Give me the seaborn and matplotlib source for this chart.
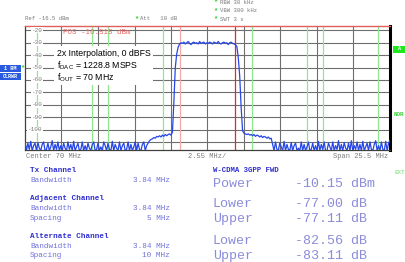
import numpy as np
import matplotlib
matplotlib.use("Agg")
import matplotlib.pyplot as plt
from matplotlib.patches import Rectangle
import seaborn as sns

# ---------------- data ----------------
center_mhz = 70.0
span_mhz = 25.5
n_points = 256                       # sweep points, 0.1 MHz apart
ref_level = -16.5
db_per_div = 10
y_labels = [-20, -30, -40, -50, -60, -70, -80, -90, -100]

# channel limits (MHz)
tx_limits = [68.08, 71.92]
adj_limits = [63.08, 66.92, 73.08, 76.92]
alt_limits = [58.08, 61.92, 78.08, 81.92]

# trace levels (dBm), segment by segment
noise_left = [-110, -117, -111, -116, -109.5, -117, -113, -111, -117, -110.5, -115, -117, -112, -110, -117, -116, -111, -117, -114, -109,
              -117, -112, -116, -110, -117, -113, -117, -111, -115, -117, -110, -116, -112, -117, -109.5, -117, -114, -111, -117, -116,
              -110, -117, -113, -117, -111, -115, -117, -112, -110, -117, -116, -111, -117, -114, -117, -110, -113, -117, -111, -116,
              -117, -109.5, -117, -112, -115, -117, -110, -117, -113, -111, -117, -116, -110, -117, -112, -117, -114, -110, -117, -111,
              -116, -117, -112, -110, -117, -113, -111, -109]
skirt_left = [-108, -107.5, -106.5, -107, -105.5, -106, -105, -106, -104.5, -105.5, -104, -105, -104, -103.5, -104.5]
rise = [-102, -78, -50, -39, -33.5]
plateau = [-31, -30, -30.5, -29.5, -31, -30, -29, -30.5, -31.5, -30, -29.5, -30.5, -30, -31, -29, -30.5, -30, -29.5, -31, -30,
           -30.5, -29.5, -30, -31, -29.5, -30, -30.5, -29, -30.5, -31, -30, -29.5, -30.5, -30, -31.5, -30, -29.5, -30.5, -31, -31.5]
fall = [-33, -42, -57, -82, -101]
skirt_right = [-103, -103.5, -104, -103.5, -104.5, -104, -105, -104, -105.5, -104.5, -105, -106, -105, -106.5, -105.5, -106, -107, -106, -107.5, -107]
noise_right = [-112, -117, -110, -116, -117, -111, -114, -117, -109.5, -117, -112, -116, -117, -110.5, -117, -113, -111, -117, -115, -117,
               -110, -117, -112, -117, -114, -110, -117, -116, -111, -117, -113, -117, -109.5, -117, -112, -116, -110, -117, -117, -111,
               -114, -117, -110, -117, -113, -116, -109, -117, -112, -117, -110.5, -115, -117, -111, -117, -109, -117, -113, -116, -110,
               -117, -112, -117, -109.5, -117, -114, -111, -117, -110, -116, -117, -112, -109, -117, -113, -117, -110, -116, -117, -109.5,
               -117, -111, -108.5]

level = np.array(noise_left + skirt_left + rise + plateau + fall + skirt_right + noise_right, dtype=float)
f_start = center_mhz - span_mhz / 2
f_stop = center_mhz + span_mhz / 2
freq = np.linspace(f_start, f_stop, n_points)

# ---------------- figure ----------------
W, H = 406, 262
sns.set_style("white")
plt.rcParams["mathtext.fontset"] = "custom"
plt.rcParams["mathtext.rm"] = "Liberation Sans"
plt.rcParams["mathtext.it"] = "Liberation Sans:italic"

fig = plt.figure(figsize=(W / 100, H / 100), dpi=100)
fig.patch.set_facecolor("white")

def fx(x):
    return x / W

def fy(y):
    return 1 - y / H

L, R, T, B = 25, 390, 26, 150
ax = fig.add_axes([fx(L), fy(B), (R - L) / W, (B - T) / H])
ax.set_facecolor("white")

ax.set_xlim(f_start, f_stop)
ax.set_ylim(ref_level - 10 * db_per_div, ref_level)
div = span_mhz / 10
ax.set_xticks([f_start + div * k for k in range(1, 10)])
ax.set_yticks(list(range(-20, -111, -10)))
ax.tick_params(length=0, labelbottom=False, labelleft=False)
ax.grid(True, color="#6e6e6e", linewidth=0.8)
ax.set_axisbelow(True)

for xv in alt_limits + adj_limits:
    ax.axvline(xv, color="#8fe88f", linewidth=0.9, zorder=1.5)
ax.axvline(tx_limits[0], color="#f4a8a8", linewidth=0.9, zorder=1.5)
ax.axvline(tx_limits[1], color="#e02828", linewidth=0.9, zorder=1.5)

sns.lineplot(x=freq, y=level, ax=ax, color="#2646e8", linewidth=0.9,
             estimator=None, sort=False, zorder=3)
ax.set_xlabel("")
ax.set_ylabel("")

for s in ["left", "bottom"]:
    ax.spines[s].set_color("#404040")
    ax.spines[s].set_linewidth(0.9)
ax.spines["right"].set_color("black")
ax.spines["right"].set_linewidth(2.2)
ax.spines["top"].set_color("#e06060")
ax.spines["top"].set_linewidth(1.0)

mono = "Liberation Mono"
gray = "#7a7a7a"

# y labels inside the grid
for v in y_labels:
    ypx = T + (ref_level - v) / (10 * db_per_div) * (B - T)
    fig.text(fx(42), fy(ypx), f"{v}", ha="right", va="center", family=mono,
             fontsize=4.3, color=gray, zorder=6,
             bbox=dict(facecolor="white", edgecolor="none", pad=0.4))

# header
fig.text(fx(25), fy(19), "Ref -16.5 dBm", ha="left", va="center", family=mono, fontsize=4.1, color=gray)
fig.text(fx(136), fy(18.5), "*", ha="center", va="center", family=mono, fontsize=5, color="#30d030", weight="bold")
fig.text(fx(140), fy(19), "Att   10 dB", ha="left", va="center", family=mono, fontsize=4.1, color=gray)
for ypos, s in [(2.6, "RBW 30 kHz"), (11, "VBW 300 kHz"), (19.7, "SWT 3 s")]:
    fig.text(fx(215.5), fy(ypos - 0.5), "*", ha="center", va="center", family=mono, fontsize=5, color="#30d030", weight="bold")
    fig.text(fx(220), fy(ypos), s, ha="left", va="center", family=mono, fontsize=4.1, color=gray)

fig.text(fx(63), fy(32), "POS -16.515 dBm", ha="left", va="center", family=mono, fontsize=5.4,
         color="#e86a6a", zorder=6)

# annotation box
fig.add_artist(Rectangle((fx(54), fy(85)), (153 - 54) / W, (85 - 46) / H, transform=fig.transFigure,
                         facecolor="white", edgecolor="none", zorder=5))
sans = "Liberation Sans"
fig.text(fx(57), fy(53), "2x Interpolation, 0 dBFS", ha="left", va="center", family=sans, fontsize=6.3, color="black", zorder=6)
fig.text(fx(57), fy(65.5), r"f$_{\mathrm{DAC}}$ = 1228.8 MSPS", ha="left", va="center", family=sans, fontsize=6.3, color="black", zorder=6)
fig.text(fx(57), fy(78), r"f$_{\mathrm{OUT}}$ = 70 MHz", ha="left", va="center", family=sans, fontsize=6.3, color="black", zorder=6)

# left trace flags
fig.add_artist(Rectangle((fx(0), fy(72)), 21 / W, 7 / H, transform=fig.transFigure,
                         facecolor="#2a5ae0", edgecolor="none"))
fig.add_artist(Rectangle((fx(0), fy(80.5)), 21 / W, 7 / H, transform=fig.transFigure,
                         facecolor="#2a5ae0", edgecolor="none"))
fig.text(fx(10.5), fy(68.5), "1 RM", ha="center", va="center", family=mono, fontsize=3.8, color="white", weight="bold")
fig.text(fx(10.5), fy(77), "CLRWR", ha="center", va="center", family=mono, fontsize=3.6, color="white", weight="bold")
fig.text(fx(22.5), fy(67.5), "*", ha="center", va="center", family=mono, fontsize=5, color="#30d030", weight="bold")

# right flags
fig.add_artist(Rectangle((fx(393), fy(52.5)), 13 / W, 7 / H, transform=fig.transFigure,
                         facecolor="#1ee81e", edgecolor="none"))
fig.text(fx(399.5), fy(49), "A", ha="center", va="center", family=mono, fontsize=3.6, color="white", weight="bold")
fig.text(fx(394), fy(114), "NOR", ha="left", va="center", family=mono, fontsize=4.2, color="#3cd03c", weight="bold")
fig.text(fx(395), fy(172.6), "EXT", ha="left", va="center", family=mono, fontsize=4.2, color="#98e698", weight="bold")

# below axis
fig.text(fx(26), fy(157), "Center 70 MHz", ha="left", va="center", family=mono, fontsize=5, color=gray)
fig.text(fx(188), fy(157), "2.55 MHz/", ha="left", va="center", family=mono, fontsize=5, color=gray)
fig.text(fx(388), fy(157), "Span 25.5 MHz", ha="right", va="center", family=mono, fontsize=5, color=gray)

# channel table (left)
hdr_c = "#2e2ed0"
row_c = "#7070dc"
rows_left = [
    (171, "Tx Channel", None, True),
    (180.7, "Bandwidth", "3.84 MHz", False),
    (199, "Adjacent Channel", None, True),
    (208.7, "Bandwidth", "3.84 MHz", False),
    (218.3, "Spacing", "5 MHz", False),
    (236.5, "Alternate Channel", None, True),
    (246, "Bandwidth", "3.84 MHz", False),
    (255.7, "Spacing", "10 MHz", False),
]
for ypos, name, val, bold in rows_left:
    fig.text(fx(30), fy(ypos), name, ha="left", va="center", family=mono, fontsize=5.5,
             color=hdr_c if bold else row_c, weight="bold" if bold else "normal")
    if val:
        fig.text(fx(170), fy(ypos), val, ha="right", va="center", family=mono, fontsize=5.5, color=row_c)

# results (right)
fig.text(fx(213), fy(171), "W-CDMA 3GPP FWD", ha="left", va="center", family=mono, fontsize=5.3,
         color=hdr_c, weight="bold")
res_c = "#8c8cdc"
results = [
    (184, "Power", "-10.15 dBm"),
    (204, "Lower", "-77.00 dB"),
    (219.3, "Upper", "-77.11 dB"),
    (241, "Lower", "-82.56 dB"),
    (256.3, "Upper", "-83.11 dB"),
]
for ypos, name, val in results:
    fig.text(fx(213), fy(ypos), name, ha="left", va="center", family=mono, fontsize=9.6, color=res_c)
    fig.text(fx(295.5), fy(ypos), val, ha="left", va="center", family=mono, fontsize=9.6, color=res_c)

fig.savefig("out.png", dpi=100, facecolor="white")
